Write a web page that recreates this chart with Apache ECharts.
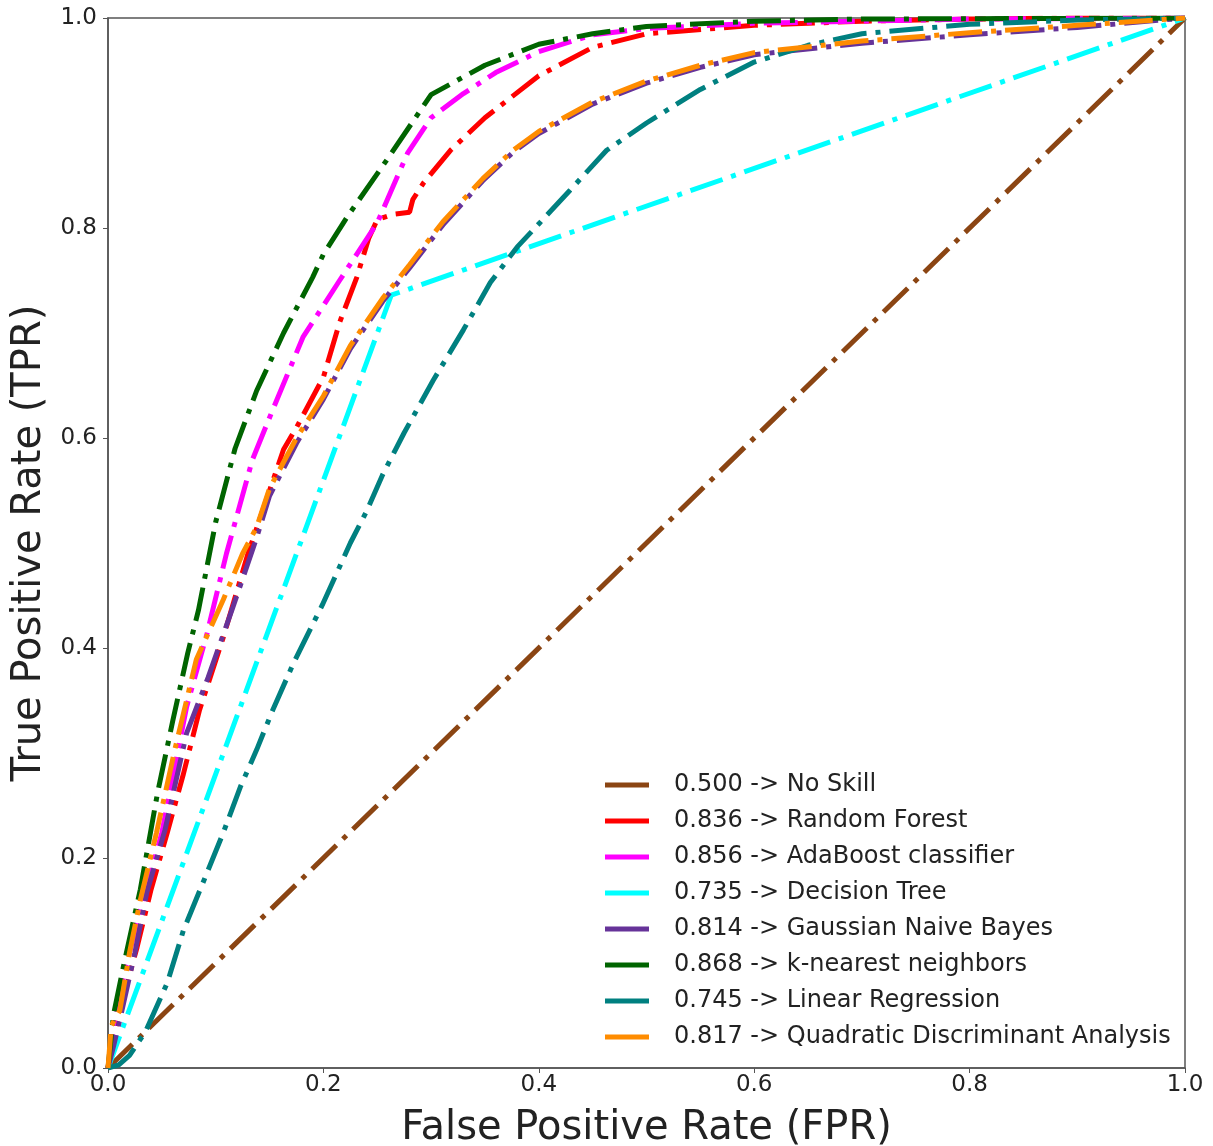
<!DOCTYPE html>
<html>
<head>
<meta charset="utf-8">
<script src="https://cdn.jsdelivr.net/npm/echarts@6/dist/echarts.min.js"></script>
<style>
  html, body { margin: 0; padding: 0; background: #fff; }
  #chart { width: 1213px; height: 1146px; }
</style>
</head>
<body>
<div id="chart"></div>
<script>
// tick labels
var ticks = [0.0, 0.2, 0.4, 0.6, 0.8, 1.0];

// legend names
var names = [
	'0.500 -> No Skill',
	'0.836 -> Random Forest',
	'0.856 -> AdaBoost classifier',
	'0.735 -> Decision Tree',
	'0.814 -> Gaussian Naive Bayes',
	'0.868 -> k-nearest neighbors',
	'0.745 -> Linear Regression',
	'0.817 -> Quadratic Discriminant Analysis'
];

// ROC curves
var fprSkill = [0, 1];
var tprSkill = [0, 1];

var fprRF = [0, 0.005, 0.015, 0.027, 0.04, 0.055, 0.07, 0.085, 0.107, 0.13, 0.15, 0.163, 0.175, 0.2, 0.215, 0.231, 0.242, 0.25, 0.265, 0.28, 0.283, 0.293, 0.318, 0.35, 0.4, 0.45, 0.5, 0.6, 0.7, 0.8, 0.9, 1];
var tprRF = [0, 0.03, 0.07, 0.115, 0.17, 0.224, 0.28, 0.341, 0.41, 0.49, 0.55, 0.589, 0.61, 0.658, 0.71, 0.753, 0.79, 0.808, 0.813, 0.815, 0.827, 0.843, 0.874, 0.905, 0.945, 0.972, 0.985, 0.993, 0.997, 0.999, 1, 1];

var fprAda = [0, 0.005, 0.015, 0.03, 0.05, 0.073, 0.092, 0.11, 0.134, 0.153, 0.181, 0.215, 0.25, 0.278, 0.3, 0.33, 0.36, 0.4, 0.45, 0.5, 0.6, 0.7, 0.8, 1];
var tprAda = [0, 0.04, 0.09, 0.15, 0.224, 0.344, 0.414, 0.49, 0.579, 0.627, 0.696, 0.75, 0.805, 0.871, 0.905, 0.928, 0.948, 0.968, 0.984, 0.99, 0.995, 0.997, 0.999, 1];

var fprDT = [0, 0.263, 1];
var tprDT = [0, 0.736, 1];

var fprGNB = [0, 0.005, 0.013, 0.025, 0.036, 0.053, 0.073, 0.093, 0.115, 0.138, 0.15, 0.175, 0.2, 0.225, 0.255, 0.28, 0.311, 0.348, 0.376, 0.4, 0.45, 0.5, 0.55, 0.6, 0.7, 0.8, 0.9, 1];
var tprGNB = [0, 0.02, 0.055, 0.11, 0.167, 0.227, 0.319, 0.372, 0.436, 0.505, 0.545, 0.595, 0.637, 0.685, 0.73, 0.762, 0.803, 0.845, 0.872, 0.89, 0.918, 0.938, 0.953, 0.965, 0.976, 0.984, 0.991, 1];

var fprKNN = [0, 0.005, 0.015, 0.03, 0.046, 0.06, 0.074, 0.084, 0.1, 0.118, 0.138, 0.163, 0.19, 0.2, 0.223, 0.259, 0.3, 0.35, 0.4, 0.45, 0.5, 0.6, 0.7, 1];
var tprKNN = [0, 0.05, 0.1, 0.17, 0.262, 0.33, 0.395, 0.436, 0.52, 0.59, 0.645, 0.7, 0.753, 0.775, 0.812, 0.865, 0.927, 0.955, 0.975, 0.985, 0.992, 0.997, 0.999, 1];

var fprLR = [0, 0.01, 0.02, 0.035, 0.055, 0.07, 0.088, 0.107, 0.123, 0.138, 0.153, 0.172, 0.199, 0.225, 0.24, 0.255, 0.275, 0.302, 0.33, 0.355, 0.38, 0.401, 0.429, 0.463, 0.5, 0.55, 0.6, 0.65, 0.7, 0.8, 0.9, 1];
var tprLR = [0, 0.003, 0.012, 0.035, 0.081, 0.131, 0.176, 0.224, 0.268, 0.303, 0.341, 0.385, 0.441, 0.5, 0.53, 0.565, 0.605, 0.655, 0.703, 0.748, 0.782, 0.805, 0.836, 0.874, 0.9, 0.932, 0.958, 0.974, 0.985, 0.994, 0.998, 1];

var fprQDA = [0, 0.003, 0.011, 0.02, 0.03, 0.045, 0.062, 0.082, 0.107, 0.125, 0.138, 0.15, 0.175, 0.2, 0.225, 0.255, 0.28, 0.311, 0.348, 0.376, 0.4, 0.45, 0.5, 0.55, 0.6, 0.7, 0.8, 0.9, 1];
var tprQDA = [0, 0.04, 0.055, 0.11, 0.16, 0.224, 0.303, 0.389, 0.446, 0.49, 0.515, 0.552, 0.6, 0.64, 0.688, 0.733, 0.765, 0.806, 0.847, 0.874, 0.892, 0.92, 0.94, 0.955, 0.967, 0.978, 0.986, 0.993, 1];

var colors = ['#8B4513', '#FF0000', '#FF00FF', '#00FFFF', '#663399', '#006400', '#008080', '#FF8C00'];

var curves = [
	[fprSkill, tprSkill],
	[fprRF, tprRF],
	[fprAda, tprAda],
	[fprDT, tprDT],
	[fprGNB, tprGNB],
	[fprKNN, tprKNN],
	[fprLR, tprLR],
	[fprQDA, tprQDA]
];

function zip(xs, ys){
	var out = [];
	for (var i = 0; i < xs.length; i++) out.push([xs[i], ys[i]]);
	return out;
}

var font = 'DejaVu Sans';
var axisColor = '#555';
var textColor = '#222';

var series = curves.map(function(c, i){
	return {
		name: names[i],
		type: 'line',
		data: zip(c[0], c[1]),
		symbol: 'none',
		smooth: false,
		lineStyle: { width: 5, color: colors[i], type: [34, 9, 5, 9] },
		itemStyle: { color: colors[i] }
	};
});

var chart = echarts.init(document.getElementById('chart'));
var option = {
	animation: false,
	backgroundColor: '#fff',
	color: colors,
	grid: {
		left: 108, right: 28, top: 18, bottom: 78,
		outerBoundsMode: 'none',
		show: true, borderColor: axisColor, borderWidth: 1.5,
		backgroundColor: 'transparent'
	},
	legend: {
		orient: 'vertical',
		left: 600,
		top: 768,
		itemWidth: 44,
		itemHeight: 5,
		itemGap: 12,
		icon: 'rect',
		data: names,
		textStyle: {
			fontFamily: font,
			fontSize: 24,
			lineHeight: 24,
			color: textColor,
			padding: [0, 0, 0, 20]
		}
	},
	xAxis: {
		type: 'value',
		min: 0, max: 1, interval: 0.2,
		name: 'False Positive Rate (FPR)',
		nameLocation: 'middle',
		nameGap: 41,
		nameTextStyle: { fontFamily: font, fontSize: 40, color: textColor },
		axisLine: { show: true, lineStyle: { color: axisColor, width: 1.5 } },
		axisTick: { show: true, length: 5, lineStyle: { color: axisColor } },
		axisLabel: {
			fontFamily: font, fontSize: 23, color: textColor, margin: 6,
			formatter: function(v){ return v.toFixed(1); }
		},
		splitLine: { show: false }
	},
	yAxis: {
		type: 'value',
		min: 0, max: 1, interval: 0.2,
		name: 'True Positive Rate (TPR)',
		nameLocation: 'middle',
		nameGap: 56,
		nameTextStyle: { fontFamily: font, fontSize: 40, color: textColor },
		axisLine: { show: true, lineStyle: { color: axisColor, width: 1.5 } },
		axisTick: { show: true, length: 5, lineStyle: { color: axisColor } },
		axisLabel: {
			fontFamily: font, fontSize: 23, color: textColor, margin: 11,
			formatter: function(v){ return v.toFixed(1); }
		},
		splitLine: { show: false }
	},
	series: series
};
chart.setOption(option);
</script>
</body>
</html>
